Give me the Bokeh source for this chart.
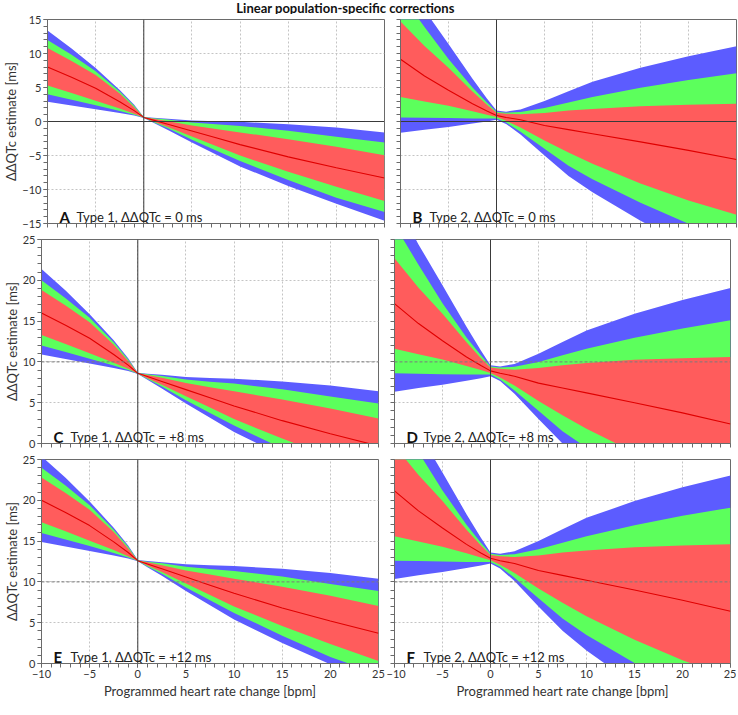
from bokeh.plotting import figure
from bokeh.models import Range1d, SingleIntervalTicker, FixedTicker, Span, Label
from bokeh.layouts import column, row
from bokeh.embed import file_html
from bokeh.resources import INLINE

TITLE = "Linear population-specific corrections"
X_LABEL = "Programmed heart rate change [bpm]"
Y_LABEL = "\u0394\u0394QTc estimate [ms]"

# heart-rate change sample points [bpm]
X = [-10, -7.5, -5, -2.5, -1, 0, 1, 2.5, 5, 7.5, 10, 15, 20, 25]

# Panel A: Type 1, ddQTc = 0 ms
A_blue_hi = [13.4, 10.75, 7.85, 4.65, 2.45, 0.68, 0.55, 0.42, 0.15, 0.03, -0.05, -0.4, -0.9, -1.6]
A_green_hi = [12.0, 9.8, 7.4, 4.4, 2.3, 0.65, 0.48, 0.28, -0.15, -0.42, -0.65, -1.35, -2.25, -3.1]
A_red_hi = [10.8, 8.9, 6.85, 4.1, 2.1, 0.62, 0.4, 0.05, -0.6, -1.1, -1.6, -2.6, -3.7, -4.95]
A_center = [8.0, 6.5, 4.9, 2.9, 1.6, 0.6, 0.2, -0.4, -1.4, -2.4, -3.4, -5.2, -6.8, -8.3]
A_red_lo = [5.3, 4.2, 3.05, 1.9, 1.15, 0.58, 0.0, -0.8, -2.2, -3.6, -5.0, -7.4, -9.6, -11.7]
A_green_lo = [4.0, 3.2, 2.4, 1.55, 1.0, 0.55, -0.1, -1.0, -2.7, -4.25, -5.8, -8.6, -11.2, -13.3]
A_blue_lo = [2.9, 2.35, 1.8, 1.25, 0.88, 0.52, -0.2, -1.25, -3.1, -4.85, -6.6, -9.5, -12.1, -14.6]

# Panel B: Type 2, ddQTc = 0 ms
B_blue_hi = [21.8, 16.4, 11.4, 6.3, 3.4, 1.6, 1.45, 1.75, 3.0, 4.45, 5.85, 7.9, 9.6, 11.05]
B_green_hi = [18.8, 13.9, 9.2, 5.0, 2.8, 1.45, 1.3, 1.4, 2.0, 2.8, 3.6, 4.95, 6.1, 7.1]
B_red_hi = [14.7, 11.1, 7.9, 4.4, 2.45, 1.3, 1.15, 1.05, 1.25, 1.6, 1.85, 2.25, 2.45, 2.6]
B_center = [9.15, 6.7, 4.6, 2.6, 1.55, 0.9, 0.6, 0.25, -0.6, -1.2, -1.8, -3.0, -4.25, -5.6]
B_red_lo = [3.6, 2.95, 2.3, 1.5, 1.0, 0.65, 0.1, -0.9, -2.8, -4.55, -6.2, -9.1, -11.6, -13.7]
B_green_lo = [0.6, 0.55, 0.5, 0.45, 0.45, 0.45, -0.15, -1.5, -4.0, -6.5, -8.5, -11.95, -15.05, -18.0]
B_blue_lo = [-1.65, -1.2, -0.8, -0.3, 0.0, 0.25, -0.35, -1.9, -5.0, -8.0, -10.4, -14.6, -18.3, -21.8]

# Panel C: Type 1, ddQTc = +8 ms
C_blue_hi = [21.4, 18.75, 15.85, 12.65, 10.45, 8.68, 8.55, 8.42, 8.15, 8.03, 7.95, 7.6, 7.1, 6.4]
C_green_hi = [20.0, 17.8, 15.4, 12.4, 10.3, 8.65, 8.48, 8.28, 7.85, 7.58, 7.35, 6.65, 5.75, 4.9]
C_red_hi = [18.8, 16.9, 14.85, 12.1, 10.1, 8.62, 8.4, 8.05, 7.4, 6.9, 6.4, 5.4, 4.3, 3.05]
C_center = [16.0, 14.5, 12.9, 10.9, 9.6, 8.6, 8.2, 7.6, 6.6, 5.6, 4.6, 2.8, 1.2, -0.3]
C_red_lo = [13.3, 12.2, 11.05, 9.9, 9.15, 8.58, 8.0, 7.2, 5.8, 4.4, 3.0, 0.6, -1.6, -3.7]
C_green_lo = [12.0, 11.2, 10.4, 9.55, 9.0, 8.55, 7.9, 7.0, 5.3, 3.75, 2.2, -0.6, -3.2, -5.3]
C_blue_lo = [10.9, 10.35, 9.8, 9.25, 8.88, 8.52, 7.8, 6.75, 4.9, 3.15, 1.4, -1.5, -4.1, -6.6]

# Panel D: Type 2, ddQTc = +8 ms
D_blue_hi = [29.8, 24.4, 19.4, 14.3, 11.4, 9.6, 9.45, 9.75, 11.0, 12.45, 13.85, 15.9, 17.6, 19.05]
D_green_hi = [26.8, 21.9, 17.2, 13.0, 10.8, 9.45, 9.3, 9.4, 10.0, 10.8, 11.6, 12.95, 14.1, 15.1]
D_red_hi = [22.7, 19.1, 15.9, 12.4, 10.45, 9.3, 9.15, 9.05, 9.25, 9.6, 9.85, 10.25, 10.45, 10.6]
D_center = [17.15, 14.7, 12.6, 10.6, 9.55, 8.9, 8.6, 8.25, 7.4, 6.8, 6.2, 5.0, 3.75, 2.4]
D_red_lo = [11.6, 10.95, 10.3, 9.5, 9.0, 8.65, 8.1, 7.1, 5.2, 3.45, 1.8, -1.1, -3.6, -5.7]
D_green_lo = [8.6, 8.55, 8.5, 8.45, 8.45, 8.45, 7.85, 6.5, 4.0, 1.5, -0.5, -3.95, -7.05, -10.0]
D_blue_lo = [6.35, 6.8, 7.2, 7.7, 8.0, 8.25, 7.65, 6.1, 3.0, 0.0, -2.4, -6.6, -10.3, -13.8]

# Panel E: Type 1, ddQTc = +12 ms
E_blue_hi = [25.4, 22.75, 19.85, 16.65, 14.45, 12.68, 12.55, 12.42, 12.15, 12.03, 11.95, 11.6, 11.1, 10.4]
E_green_hi = [24.0, 21.8, 19.4, 16.4, 14.3, 12.65, 12.48, 12.28, 11.85, 11.58, 11.35, 10.65, 9.75, 8.9]
E_red_hi = [22.8, 20.9, 18.85, 16.1, 14.1, 12.62, 12.4, 12.05, 11.4, 10.9, 10.4, 9.4, 8.3, 7.05]
E_center = [20.0, 18.5, 16.9, 14.9, 13.6, 12.6, 12.2, 11.6, 10.6, 9.6, 8.6, 6.8, 5.2, 3.7]
E_red_lo = [17.3, 16.2, 15.05, 13.9, 13.15, 12.58, 12.0, 11.2, 9.8, 8.4, 7.0, 4.6, 2.4, 0.3]
E_green_lo = [16.0, 15.2, 14.4, 13.55, 13.0, 12.55, 11.9, 11.0, 9.3, 7.75, 6.2, 3.4, 0.8, -1.3]
E_blue_lo = [14.9, 14.35, 13.8, 13.25, 12.88, 12.52, 11.8, 10.75, 8.9, 7.15, 5.4, 2.5, -0.1, -2.6]

# Panel F: Type 2, ddQTc = +12 ms
F_blue_hi = [33.8, 28.4, 23.4, 18.3, 15.4, 13.6, 13.45, 13.75, 15.0, 16.45, 17.85, 19.9, 21.6, 23.05]
F_green_hi = [30.8, 25.9, 21.2, 17.0, 14.8, 13.45, 13.3, 13.4, 14.0, 14.8, 15.6, 16.95, 18.1, 19.1]
F_red_hi = [26.7, 23.1, 19.9, 16.4, 14.45, 13.3, 13.15, 13.05, 13.25, 13.6, 13.85, 14.25, 14.45, 14.6]
F_center = [21.15, 18.7, 16.6, 14.6, 13.55, 12.9, 12.6, 12.25, 11.4, 10.8, 10.2, 9.0, 7.75, 6.4]
F_red_lo = [15.6, 14.95, 14.3, 13.5, 13.0, 12.65, 12.1, 11.1, 9.2, 7.45, 5.8, 2.9, 0.4, -1.7]
F_green_lo = [12.6, 12.55, 12.5, 12.45, 12.45, 12.45, 11.85, 10.5, 8.0, 5.5, 3.5, 0.05, -3.05, -6.0]
F_blue_lo = [10.35, 10.8, 11.2, 11.7, 12.0, 12.25, 11.65, 10.1, 7.0, 4.0, 1.6, -2.6, -6.3, -9.8]

PANEL_LETTERS = ["A", "B", "C", "D", "E", "F"]
PANEL_TEXTS = [
    "Type 1, \u0394\u0394QTc = 0 ms",
    "Type 2, \u0394\u0394QTc = 0 ms",
    "Type 1, \u0394\u0394QTc = +8 ms",
    "Type 2, \u0394\u0394QTc= +8 ms",
    "Type 1, \u0394\u0394QTc = +12 ms",
    "Type 2, \u0394\u0394QTc = +12 ms",
]
Y_RANGES = [(-15, 15), (-15, 15), (0, 25), (0, 25), (0, 25), (0, 25)]
REF_LINES = [0, 0, 10, 10, 10, 10]
X_RANGE = (-10, 25)

BLUE = "#5c5cff"
GREEN = "#5cff5c"
RED = "#ff5c5c"
LINE_RED = "#e00000"
AXIS = "#6a6a6a"
TXT = "#333333"
FONT = "Lato"

panel_data = [
    (A_blue_lo, A_blue_hi, A_green_lo, A_green_hi, A_red_lo, A_red_hi, A_center),
    (B_blue_lo, B_blue_hi, B_green_lo, B_green_hi, B_red_lo, B_red_hi, B_center),
    (C_blue_lo, C_blue_hi, C_green_lo, C_green_hi, C_red_lo, C_red_hi, C_center),
    (D_blue_lo, D_blue_hi, D_green_lo, D_green_hi, D_red_lo, D_red_hi, D_center),
    (E_blue_lo, E_blue_hi, E_green_lo, E_green_hi, E_red_lo, E_red_hi, E_center),
    (F_blue_lo, F_blue_hi, F_green_lo, F_green_hi, F_red_lo, F_red_hi, F_center),
]

# vertical borders per row: (top, bottom)
ROW_BORDERS = [(5, 9), (7, 9), (7, 36)]


def make_panel(i):
    col = i % 2
    rw = i // 2
    left = col == 0
    bottom = rw == 2
    y0, y1 = Y_RANGES[i]
    top_b, bot_b = ROW_BORDERS[rw]
    p = figure(
        frame_width=337 if left else 336,
        frame_height=204,
        x_range=Range1d(*X_RANGE),
        y_range=Range1d(y0, y1),
        output_backend="svg",
        toolbar_location=None,
        min_border_left=35 if left else 8,
        min_border_right=8 if left else 6,
        min_border_top=top_b,
        min_border_bottom=bot_b,
        background_fill_color="white",
        border_fill_color="white",
        outline_line_color=AXIS,
    )
    blo, bhi, glo, ghi, rlo, rhi, cen = panel_data[i]
    p.varea(x=X, y1=blo, y2=bhi, fill_color=BLUE, fill_alpha=1.0)
    p.varea(x=X, y1=glo, y2=ghi, fill_color=GREEN, fill_alpha=1.0)
    p.varea(x=X, y1=rlo, y2=rhi, fill_color=RED, fill_alpha=1.0)
    p.line(X, cen, line_color=LINE_RED, line_width=1.1)

    # reference lines
    p.add_layout(Span(location=0, dimension="height", line_color="#3a3a3a", line_width=1))
    if REF_LINES[i] == 0:
        p.add_layout(Span(location=0, dimension="width", line_color="#3a3a3a", line_width=1))
    else:
        p.add_layout(Span(location=REF_LINES[i], dimension="width", line_color="#7a7a7a",
                          line_width=1, line_dash="3 2"))

    xa, ya = p.xaxis[0], p.yaxis[0]
    # labelled axes: majors every 5 with 1-unit minors; unlabelled axes: tick marks only
    if bottom:
        xa.ticker = SingleIntervalTicker(interval=5, num_minor_ticks=5)
    else:
        xa.ticker = FixedTicker(ticks=[], minor_ticks=list(range(X_RANGE[0], X_RANGE[1] + 1)))
    if left:
        ya.ticker = SingleIntervalTicker(interval=5, num_minor_ticks=5)
    else:
        ya.ticker = FixedTicker(ticks=[], minor_ticks=list(range(y0, y1 + 1)))

    for ax in (xa, ya):
        ax.axis_line_color = AXIS
        ax.major_tick_line_color = AXIS
        ax.minor_tick_line_color = AXIS
        ax.major_tick_out = 4
        ax.major_tick_in = 0
        ax.minor_tick_out = 4
        ax.minor_tick_in = 0
        ax.major_label_text_font = FONT
        ax.major_label_text_font_size = "11px"
        ax.major_label_text_color = TXT
        ax.axis_label_text_font = FONT
        ax.axis_label_text_font_size = "13px"
        ax.axis_label_text_font_style = "normal"
        ax.axis_label_text_color = TXT
        ax.major_label_standoff = 2

    if left:
        ya.axis_label = Y_LABEL
        ya.axis_label_standoff = 0
    if bottom:
        xa.axis_label = X_LABEL
        xa.axis_label_standoff = 2

    for g in (p.xgrid[0], p.ygrid[0]):
        g.ticker = SingleIntervalTicker(interval=5)
        g.grid_line_color = "#c4c4c4"
        g.grid_line_dash = "2 2"
        g.grid_line_width = 1

    p.add_layout(Label(x=X_RANGE[0], y=y0, x_offset=12, y_offset=7, text=PANEL_LETTERS[i],
                       text_font=FONT, text_font_size="15px", text_font_style="bold",
                       text_color="#111111", text_baseline="alphabetic"))
    p.add_layout(Label(x=X_RANGE[0], y=y0, x_offset=29, y_offset=7, text=PANEL_TEXTS[i],
                       text_font=FONT, text_font_size="13px", text_color="#222222",
                       text_baseline="alphabetic"))
    return p


panels = [make_panel(i) for i in range(6)]

tfig = figure(width=730, height=14, x_range=Range1d(0, 730), y_range=Range1d(0, 14),
              output_backend="svg", toolbar_location=None, min_border=0,
              x_axis_location=None, y_axis_location=None, outline_line_color=None)
tfig.xgrid.visible = False
tfig.ygrid.visible = False
tfig.add_layout(Label(x=345, y=7, text=TITLE, text_align="center", text_baseline="middle",
                      text_font=FONT, text_font_size="13px", text_font_style="bold",
                      text_color="#111111"))

layout = column(
    tfig,
    row(panels[0], panels[1]),
    row(panels[2], panels[3]),
    row(panels[4], panels[5]),
)

open("out.html", "w").write(file_html(layout, INLINE))
